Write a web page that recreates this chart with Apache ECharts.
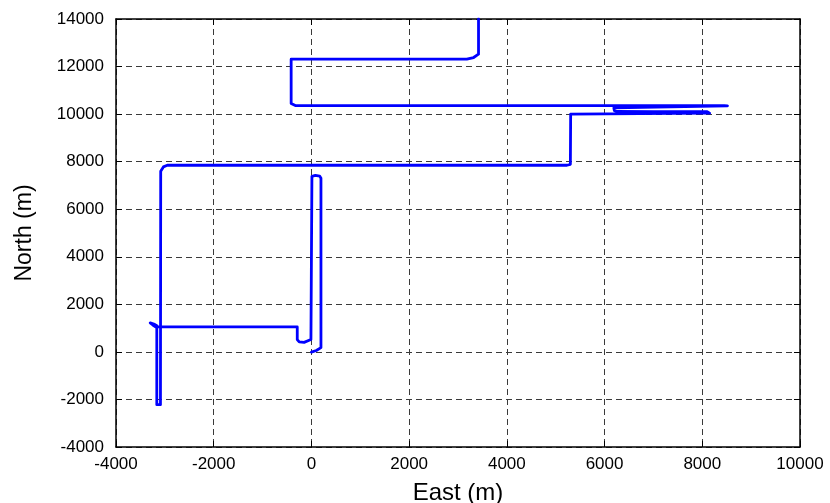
<!DOCTYPE html>
<html>
<head>
<meta charset="utf-8">
<script src="https://cdn.jsdelivr.net/npm/echarts@6/dist/echarts.min.js"></script>
<style>
html,body{margin:0;padding:0;background:#fff;}
#chart{width:830px;height:503px;}
</style>
</head>
<body>
<div id="chart"></div>
<script>
// Trajectory (East, North) in metres
var eastVals = [
  0, 100, 195, 195, 170, 80, 10, -10, -10, -40, -150, -250, -290, -290,
  -3190, -3240, -3300, -3330, -3300, -3210, -3165, -3165, -3130, -3090,
  -3085, -3030, -2950, 5230, 5300, 5306, 5340, 8150, 8100, 7000, 6260,
  6200, 6190, 6230, 8516, 8450, -330, -415, -415, 3180, 3320, 3420, 3420
];
var northVals = [
  -10, 60, 180, 7300, 7390, 7420, 7380, 7300, 520, 440, 400, 420, 520, 1050,
  1050, 1120, 1220, 1240, 1200, 1160, 1100, -2220, -2270, -2220,
  7600, 7780, 7850, 7850, 7890, 10000, 10040, 10040, 10100, 10100, 10110,
  10150, 10260, 10340, 10350, 10360, 10360, 10450, 12310, 12310, 12380, 12520, 14000
];
var xTicks = [-4000, -2000, 0, 2000, 4000, 6000, 8000, 10000];
var yTicks = [-4000, -2000, 0, 2000, 4000, 6000, 8000, 10000, 12000, 14000];

var pathData = eastVals.map(function (e, i) { return [e, northVals[i]]; });

var font = "'Liberation Sans', Arial, sans-serif";
var gridLine = { show: true, lineStyle: { color: '#3a3a3a', type: [6, 4], width: 1 } };
function plain(v) { return String(v); }

function xAx(pos, main) {
  return {
    type: 'value', position: pos,
    min: xTicks[0], max: xTicks[xTicks.length - 1], interval: 2000,
    name: main ? 'East (m)' : '', nameLocation: 'middle', nameGap: 34,
    nameTextStyle: { fontFamily: font, fontSize: 24, color: '#000' },
    axisLine: { show: true, onZero: false, lineStyle: { color: '#000', width: 1.5 } },
    axisTick: { show: true, inside: true, length: 6, lineStyle: { color: '#000' } },
    axisLabel: { show: main, margin: 9, fontFamily: font, fontSize: 17, color: '#000', formatter: plain },
    splitLine: main ? gridLine : { show: false }
  };
}
function yAx(pos, main) {
  return {
    type: 'value', position: pos,
    min: yTicks[0], max: yTicks[yTicks.length - 1], interval: 2000,
    name: main ? 'North (m)' : '', nameLocation: 'middle', nameGap: 80, nameRotate: 90,
    nameTextStyle: { fontFamily: font, fontSize: 23, color: '#000' },
    axisLine: { show: true, onZero: false, lineStyle: { color: '#000', width: 1.5 } },
    axisTick: { show: true, inside: true, length: 6, lineStyle: { color: '#000' } },
    axisLabel: { show: main, margin: 12, fontFamily: font, fontSize: 17, color: '#000', formatter: plain },
    splitLine: main ? gridLine : { show: false }
  };
}

var chart = echarts.init(document.getElementById('chart'), null, { renderer: 'canvas' });
chart.setOption({
  animation: false,
  backgroundColor: '#fff',
  grid: { left: 116, right: 30, top: 19, bottom: 56, containLabel: false, outerBoundsMode: 'none' },
  xAxis: [xAx('bottom', true), xAx('top', false)],
  yAxis: [yAx('left', true), yAx('right', false)],
  series: [{
    type: 'line',
    xAxisIndex: 0, yAxisIndex: 0,
    data: pathData,
    showSymbol: false,
    symbol: 'none',
    smooth: false,
    clip: true,
    lineStyle: { color: '#0000ff', width: 2.8, join: 'round', cap: 'round' }
  }]
});
</script>
</body>
</html>
